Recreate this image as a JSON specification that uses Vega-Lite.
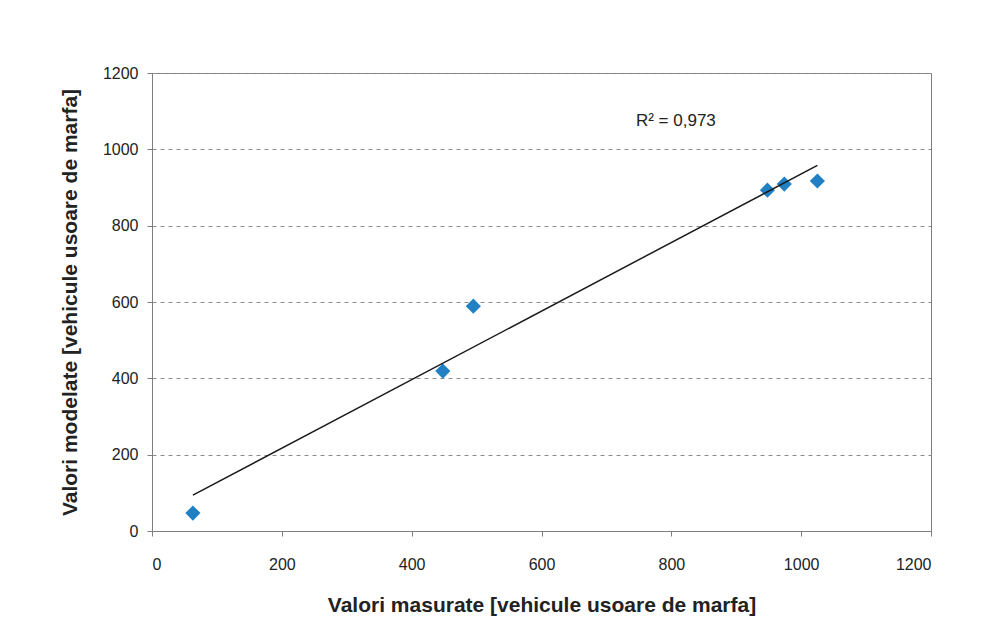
{
  "$schema": "https://vega.github.io/schema/vega-lite/v6.json",
  "width": 779,
  "height": 458,
  "autosize": {"type": "none"},
  "padding": {"left": 152, "top": 73, "right": 54, "bottom": 106},
  "background": "white",
  "config": {
    "font": "Liberation Sans",
    "view": {"stroke": "#7f7f7f", "strokeWidth": 1},
    "axis": {
      "labelFont": "Liberation Sans",
      "labelFontSize": 16,
      "labelColor": "#222222",
      "titleFont": "Liberation Sans",
      "titleFontSize": 21,
      "titleFontWeight": "bold",
      "titleColor": "#222222",
      "domainColor": "#7f7f7f",
      "tickColor": "#7f7f7f",
      "tickSize": 5,
      "format": "d"
    }
  },
  "datasets": {
    "points": [
      {"masurate": 63, "modelate": 47},
      {"masurate": 448, "modelate": 419},
      {"masurate": 495, "modelate": 589},
      {"masurate": 948, "modelate": 893},
      {"masurate": 974, "modelate": 909},
      {"masurate": 1025, "modelate": 917}
    ],
    "note": [
      {"masurate": 807, "modelate": 1075, "label": "R² = 0,973"}
    ]
  },
  "layer": [
    {
      "data": {"name": "points"},
      "mark": {"type": "point", "shape": "diamond", "filled": true, "color": "#2180c4", "size": 230, "opacity": 1},
      "encoding": {
        "x": {
          "field": "masurate", "type": "quantitative",
          "scale": {"domain": [0, 1200], "nice": false, "zero": true},
          "axis": {
            "values": [0, 200, 400, 600, 800, 1000, 1200],
            "grid": false,
            "labelPadding": 20,
            "titlePadding": 22,
            "title": "Valori masurate [vehicule usoare de marfa]"
          }
        },
        "y": {
          "field": "modelate", "type": "quantitative",
          "scale": {"domain": [0, 1200], "nice": false, "zero": true},
          "axis": {
            "values": [0, 200, 400, 600, 800, 1000, 1200],
            "grid": true,
            "gridDash": [4, 4],
            "gridColor": "#8c8c8c",
            "gridWidth": 1,
            "labelPadding": 9,
            "titlePadding": 22,
            "title": "Valori modelate [vehicule usoare de marfa]"
          }
        }
      }
    },
    {
      "data": {"name": "points"},
      "transform": [{"regression": "modelate", "on": "masurate"}],
      "mark": {"type": "line", "color": "#1a1a1a", "strokeWidth": 1.5},
      "encoding": {
        "x": {"field": "masurate", "type": "quantitative"},
        "y": {"field": "modelate", "type": "quantitative"}
      }
    },
    {
      "data": {"name": "note"},
      "mark": {"type": "text", "font": "Liberation Sans", "fontSize": 17, "color": "#222222", "align": "center", "baseline": "middle"},
      "encoding": {
        "x": {"field": "masurate", "type": "quantitative"},
        "y": {"field": "modelate", "type": "quantitative"},
        "text": {"field": "label"}
      }
    }
  ]
}
